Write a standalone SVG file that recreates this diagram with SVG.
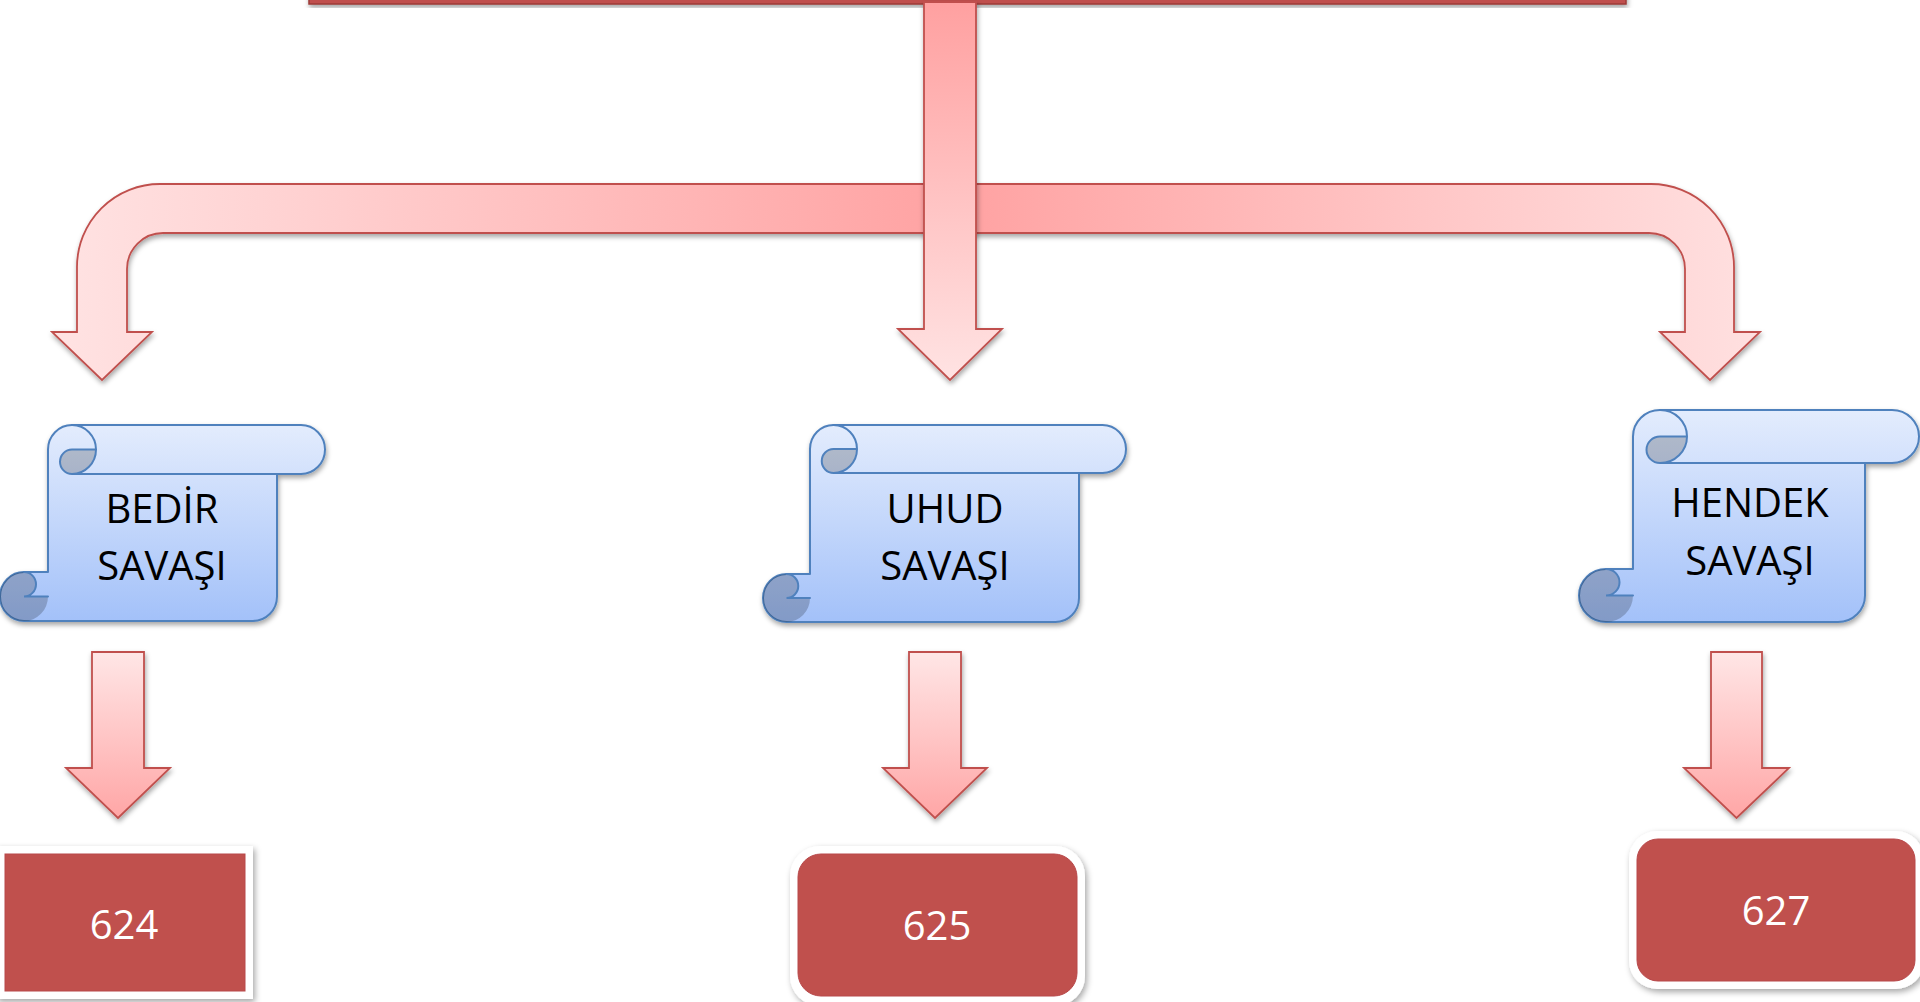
<svg xmlns="http://www.w3.org/2000/svg" width="1920" height="1002" viewBox="0 0 1920 1002">
  <defs>
    <linearGradient id="bandGrad" gradientUnits="userSpaceOnUse" x1="52" y1="0" x2="1760" y2="0">
      <stop offset="0" stop-color="#ffe3e3"/>
      <stop offset="0.53" stop-color="#ffa2a2"/>
      <stop offset="1" stop-color="#ffe0e0"/>
    </linearGradient>
    <linearGradient id="centerGrad" gradientUnits="userSpaceOnUse" x1="0" y1="0" x2="0" y2="380">
      <stop offset="0" stop-color="#ffa0a0"/>
      <stop offset="1" stop-color="#ffe3e3"/>
    </linearGradient>
    <linearGradient id="smallGrad" x1="0" y1="0" x2="0" y2="1">
      <stop offset="0" stop-color="#ffe6e6"/>
      <stop offset="1" stop-color="#ffa6a6"/>
    </linearGradient>
    <linearGradient id="scrollGrad" x1="0" y1="0" x2="0" y2="1">
      <stop offset="0" stop-color="#e3ecfd"/>
      <stop offset="1" stop-color="#a3c1f9"/>
    </linearGradient>
    <filter id="shadow" x="-10%" y="-10%" width="120%" height="130%">
      <feDropShadow dx="1" dy="3" stdDeviation="2.5" flood-color="#000" flood-opacity="0.35"/>
    </filter>
    <filter id="frameShadow" x="-10%" y="-10%" width="125%" height="130%">
      <feDropShadow dx="2" dy="3" stdDeviation="3" flood-color="#000" flood-opacity="0.35"/>
    </filter>
    <style>
      .arrow { stroke: #c0504d; stroke-width: 1.8; stroke-linejoin: miter; }
      .scroll { fill: url(#scrollGrad); stroke: #4f81bd; stroke-width: 2; stroke-linejoin: round; }
      .line { fill: none; stroke: #4f81bd; stroke-width: 2; stroke-linecap: round; }
      .curl { fill: #000; fill-opacity: 0.2; stroke: none; }
      .stxt { font-family: "Open Sans", "Liberation Sans", sans-serif; font-size: 40px; fill: #000; text-anchor: middle; }
      .btxt { font-family: "Open Sans", "Liberation Sans", sans-serif; font-size: 40px; fill: #fff; text-anchor: middle; }
      .frame { fill: #fff; }
      .red { fill: #c0504d; stroke: #b8484a; stroke-width: 1; }
    </style>
  </defs>

  <rect width="1920" height="1002" fill="#fff"/>

  <g id="top-bar" filter="url(#shadow)">
    <rect x="309" y="-12" width="1317" height="16" fill="#c0504d" stroke="#9c3a37" stroke-width="1.5"/>
  </g>

  <g id="connectors">
    <path class="arrow" filter="url(#shadow)" fill="url(#bandGrad)" d="M52,332 L77,332 L77,267 A83,83 0 0 1 160,184 L1651,184 A83,83 0 0 1 1734,267 L1734,332 L1760,332 L1710,380 L1660,332 L1685,332 L1685,269 A36,36 0 0 0 1649,233 L163,233 A36,36 0 0 0 127,269 L127,332 L152,332 L102,380 Z"/>
    <path class="arrow" filter="url(#shadow)" fill="url(#centerGrad)" d="M924,2 L976,2 L976,329 L1002,329 L950,380 L898,329 L924,329 Z"/>
    <path class="arrow" filter="url(#shadow)" fill="url(#smallGrad)" d="M92,652 L144,652 L144,768 L170,768 L118,818 L66,768 L92,768 Z"/>
    <path class="arrow" filter="url(#shadow)" fill="url(#smallGrad)" d="M909,652 L961,652 L961,768 L987,768 L935,818 L883,768 L909,768 Z"/>
    <path class="arrow" filter="url(#shadow)" fill="url(#smallGrad)" d="M1711,652 L1762,652 L1762,768 L1789,768 L1736.5,818 L1684,768 L1711,768 Z"/>
  </g>

  <g id="scroll-bedir" transform="translate(0,425)">
    <path class="scroll" filter="url(#shadow)" d="M72,0 L301,0 A24 24.5 0 0 1 301,49 L277,49 L277,171.5 A24 24.5 0 0 1 253,196 L24,196 A24 24.5 0 0 1 24,147 L48,147 L48,24.5 A24 24.5 0 0 1 72,0 Z"/>
    <path class="curl" d="M72,24.5 L96,24.5 A24 24.5 0 0 1 72,49 A12 12.25 0 0 1 72,24.5 Z"/>
    <path class="curl" d="M24,147 A12 12.25 0 0 1 24,171.5 L48,171.5 A24 24.5 0 0 1 24,196 A24 24.5 0 0 1 24,147 Z"/>
    <path class="line" d="M72,49 L301,49 M72,0 A24 24.5 0 0 1 72,49 M72,49 A12 12.25 0 0 1 72,24.5 L96,24.5 M24,147 A12 12.25 0 0 1 24,171.5 L48,171.5"/>
    <text class="stxt" x="162" y="98">BEDİR</text>
    <text class="stxt" x="162" y="155">SAVAŞI</text>
  </g>

  <g id="scroll-uhud" transform="translate(763,425)">
    <path class="scroll" filter="url(#shadow)" d="M70.5,0 L339.5,0 A23.5 24 0 0 1 339.5,48 L316,48 L316,173 A23.5 24 0 0 1 292.5,197 L23.5,197 A23.5 24 0 0 1 23.5,149 L47,149 L47,24 A23.5 24 0 0 1 70.5,0 Z"/>
    <path class="curl" d="M70.5,24 L94,24 A23.5 24 0 0 1 70.5,48 A11.75 12 0 0 1 70.5,24 Z"/>
    <path class="curl" d="M23.5,149 A11.75 12 0 0 1 23.5,173 L47,173 A23.5 24 0 0 1 23.5,197 A23.5 24 0 0 1 23.5,149 Z"/>
    <path class="line" d="M70.5,48 L339.5,48 M70.5,0 A23.5 24 0 0 1 70.5,48 M70.5,48 A11.75 12 0 0 1 70.5,24 L94,24 M23.5,149 A11.75 12 0 0 1 23.5,173 L47,173"/>
    <text class="stxt" x="182" y="98">UHUD</text>
    <text class="stxt" x="182" y="155">SAVAŞI</text>
  </g>

  <g id="scroll-hendek" transform="translate(1579,410)">
    <path class="scroll" filter="url(#shadow)" d="M81,0 L313,0 A27 26.5 0 0 1 313,53 L286,53 L286,185.5 A27 26.5 0 0 1 259,212 L27,212 A27 26.5 0 0 1 27,159 L54,159 L54,26.5 A27 26.5 0 0 1 81,0 Z"/>
    <path class="curl" d="M81,26.5 L108,26.5 A27 26.5 0 0 1 81,53 A13.5 13.25 0 0 1 81,26.5 Z"/>
    <path class="curl" d="M27,159 A13.5 13.25 0 0 1 27,185.5 L54,185.5 A27 26.5 0 0 1 27,212 A27 26.5 0 0 1 27,159 Z"/>
    <path class="line" d="M81,53 L313,53 M81,0 A27 26.5 0 0 1 81,53 M81,53 A13.5 13.25 0 0 1 81,26.5 L108,26.5 M27,159 A13.5 13.25 0 0 1 27,185.5 L54,185.5"/>
    <text class="stxt" x="171" y="107">HENDEK</text>
    <text class="stxt" x="171" y="165">SAVAŞI</text>
  </g>

  <g id="box-624">
    <rect class="frame" filter="url(#frameShadow)" x="-4" y="846" width="257" height="153"/>
    <rect class="red" x="5" y="854" width="240" height="137"/>
    <text class="btxt" x="124" y="939">624</text>
  </g>

  <g id="box-625">
    <rect class="frame" filter="url(#frameShadow)" x="790" y="846" width="295" height="160" rx="30"/>
    <rect class="red" x="798" y="854" width="279" height="142" rx="23"/>
    <text class="btxt" x="937" y="940">625</text>
  </g>

  <g id="box-627">
    <rect class="frame" filter="url(#frameShadow)" x="1629" y="831" width="295" height="158" rx="28"/>
    <rect class="red" x="1637" y="839" width="278" height="142" rx="21"/>
    <text class="btxt" x="1776" y="925">627</text>
  </g>
</svg>
